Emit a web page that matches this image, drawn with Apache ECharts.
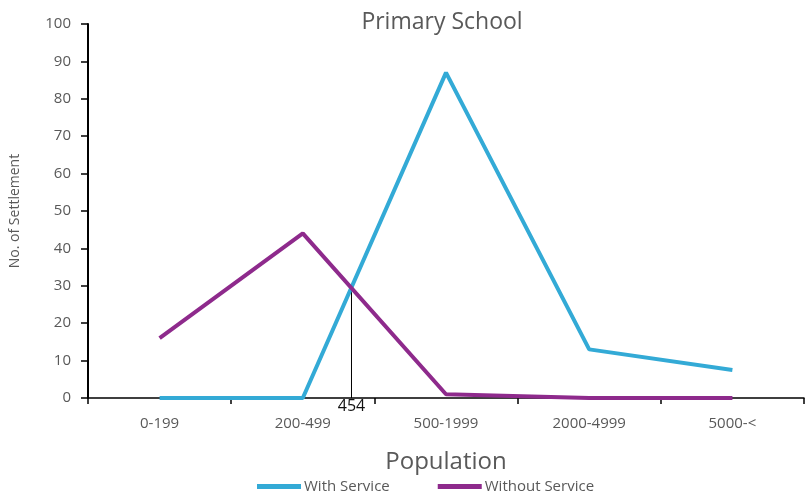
<!DOCTYPE html>
<html>
<head>
<meta charset="utf-8">
<script src="https://cdn.jsdelivr.net/npm/echarts@6/dist/echarts.min.js"></script>
<style>html,body{margin:0;padding:0;background:#fff}#c{width:811px;height:494px}</style>
</head>
<body>
<div id="c"></div>
<script>
const categories = ['0-199', '200-499', '500-1999', '2000-4999', '5000-<'];
const withService = [0, 0, 87, 13, 7.5];
const withoutService = [16, 44, 1, 0, 0];
const thresholdLabel = '454';
const thresholdPos = 1.34;   // position between category indices
const thresholdValue = 30;
const yTicks = [0, 10, 20, 30, 40, 50, 60, 70, 80, 90, 100];

const FONT = '"Open Sans", "Noto Sans", sans-serif';
const GREY = '#595959';
const chart = echarts.init(document.getElementById('c'));
chart.setOption({
  animation: false,
  backgroundColor: '#fff',
  title: {
    text: 'Primary School', left: 437, top: 6, textAlign: 'center',
    textStyle: { fontFamily: FONT, fontSize: 23, fontWeight: 'normal', color: GREY }
  },
  legend: {
    data: ['With Service', 'Without Service'],
    left: 252, top: 474, itemWidth: 44, itemHeight: 5, itemGap: 48, icon: 'rect',
    textStyle: { fontFamily: FONT, fontSize: 15, color: GREY, padding: [0, 0, 0, -2] }
  },
  grid: { left: 86, right: 7, top: 24, bottom: 96 },
  xAxis: [{
    type: 'category', data: categories, boundaryGap: true,
    name: 'Population', nameLocation: 'middle', nameGap: 52,
    nameTextStyle: { fontFamily: FONT, fontSize: 24, color: GREY },
    axisLine: { onZero: false, lineStyle: { color: '#000', width: 1.5 } },
    axisTick: { show: true, length: 6, inside: false, lineStyle: { color: '#000', width: 1.5 } },
    axisLabel: { fontFamily: FONT, fontSize: 15, color: GREY, margin: 18 }
  }, {
    type: 'value', min: -0.5, max: 4.5, show: false
  }],
  yAxis: {
    type: 'value', min: yTicks[0], max: yTicks[yTicks.length - 1], interval: 10,
    name: 'No. of Settlement', nameLocation: 'middle', nameGap: 66, nameRotate: 90,
    nameTextStyle: { fontFamily: FONT, fontSize: 14, color: GREY },
    axisLine: { show: true, onZero: false, lineStyle: { color: '#000', width: 2 } },
    axisTick: { show: true, length: 7, lineStyle: { color: '#000', width: 1.5 } },
    axisLabel: { fontFamily: FONT, fontSize: 15, color: GREY, margin: 17 },
    splitLine: { show: false }
  },
  series: [{
    name: 'With Service', type: 'line', data: withService, showSymbol: false,
    lineStyle: { color: '#33AAD6', width: 4 }, itemStyle: { color: '#33AAD6' }, z: 3
  }, {
    name: 'Without Service', type: 'line', data: withoutService, showSymbol: false,
    lineStyle: { color: '#8E2A8C', width: 4 }, itemStyle: { color: '#8E2A8C' }, z: 4
  }, {
    name: 'threshold', type: 'line', xAxisIndex: 1,
    data: [
      { value: [thresholdPos, 0], label: { show: true, position: 'bottom', formatter: thresholdLabel, distance: 0,
        fontFamily: FONT, fontSize: 16, color: '#111' } },
      [thresholdPos, thresholdValue]
    ],
    symbol: 'circle', symbolSize: 1, showSymbol: true, itemStyle: { color: 'rgba(0,0,0,0)' },
    lineStyle: { color: '#000', width: 1 }, z: 2, silent: true
  }]
});
</script>
</body>
</html>
